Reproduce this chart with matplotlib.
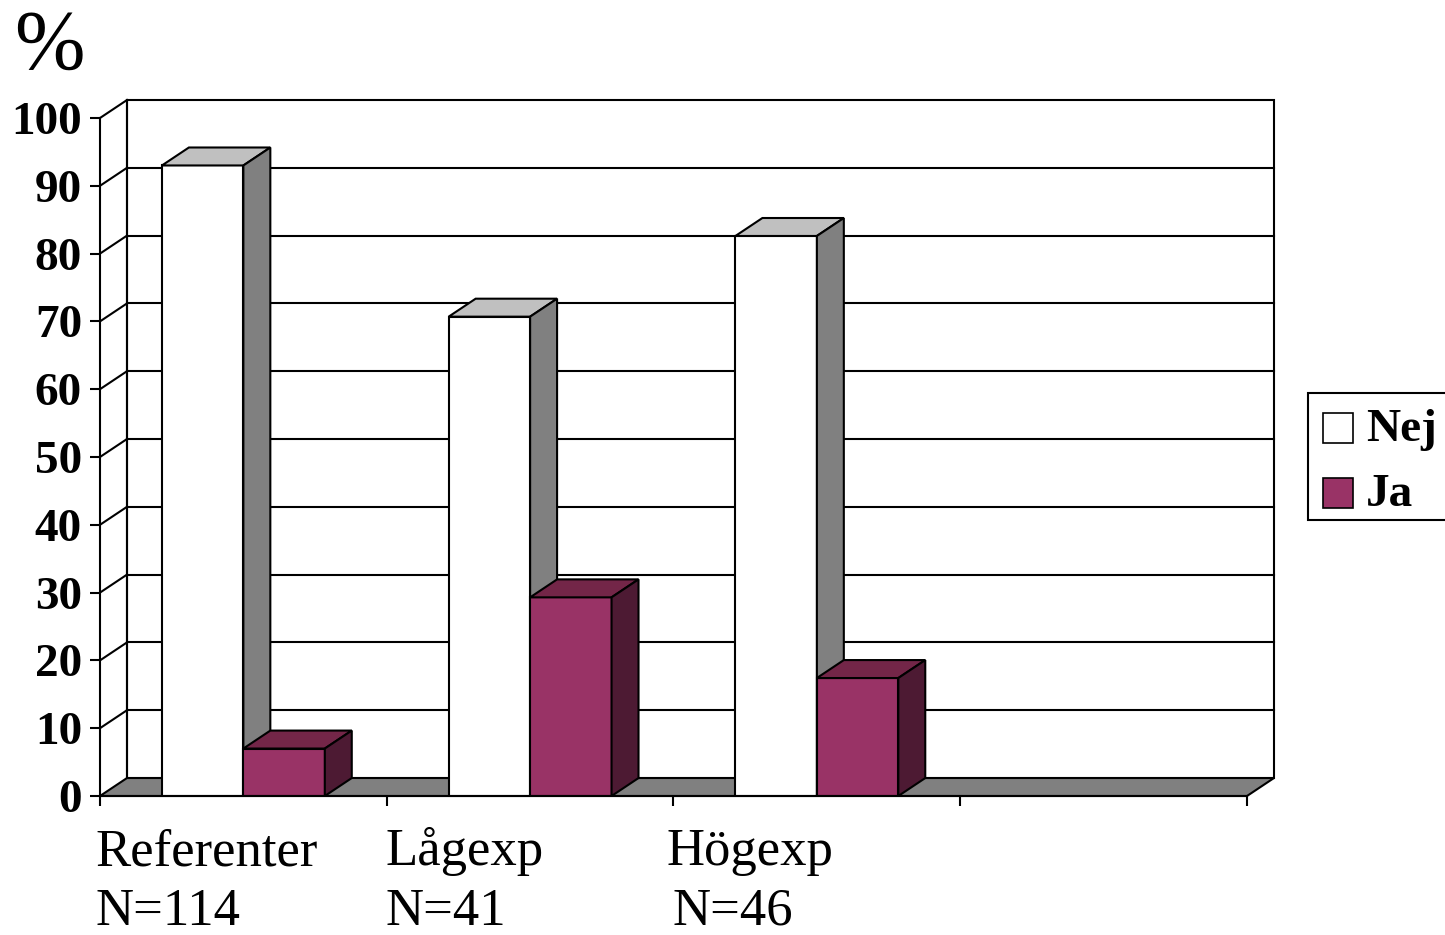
import matplotlib.pyplot as plt
from matplotlib.patches import Polygon, Rectangle

# data (percent)
groups = ['Referenter', 'Lågexp', 'Högexp']
counts = ['N=114', 'N=41', 'N=46']
nej = [93.0, 70.7, 82.6]
ja = [7.0, 29.3, 17.4]
series = ['Nej', 'Ja']
yticks = [0, 10, 20, 30, 40, 50, 60, 70, 80, 90, 100]

# colours: front, top, side
col_nej = ('#ffffff', '#c0c0c0', '#808080')
col_ja = ('#993366', '#732648', '#4d1a33')

serif = 'Liberation Serif'
nslots = 4          # Excel leaves an empty 4th category slot
DX, DY = 0.094, 2.65  # depth offset of the 3d box (data units)
bw = 0.284            # bar width in slot units
lw = 1.5

fig = plt.figure(figsize=(14.45, 9.35), dpi=100)
ax = fig.add_axes([100/1445, 139/935, 1147/1445, 678/935])
ax.set_xlim(0, nslots)
ax.set_ylim(0, 100)
ax.patch.set_visible(False)

# back wall
ax.add_patch(Rectangle((DX, DY), nslots, 100, facecolor='white', edgecolor='black',
                       lw=lw, clip_on=False, zorder=1))
for y in yticks[1:-1]:
    ax.plot([DX, nslots + DX], [y + DY, y + DY], color='black', lw=lw, clip_on=False, zorder=2)
# left wall diagonals
for y in yticks[1:]:
    ax.plot([0, DX], [y, y + DY], color='black', lw=lw, clip_on=False, zorder=2)
ax.plot([DX, DX], [DY, 100 + DY], color='black', lw=lw, clip_on=False, zorder=2)

# floor
ax.add_patch(Polygon([(0, 0), (nslots, 0), (nslots + DX, DY), (DX, DY)], closed=True,
                     facecolor='#808080', edgecolor='black', lw=lw, clip_on=False, zorder=3))


def box(x0, h, cols):
    ax.bar(x0, h, width=bw, align='edge', color=cols[0], edgecolor='black', lw=lw, zorder=5)
    ax.add_patch(Polygon([(x0, h), (x0 + bw, h), (x0 + bw + DX, h + DY), (x0 + DX, h + DY)],
                         closed=True, facecolor=cols[1], edgecolor='black', lw=lw,
                         clip_on=False, zorder=5))
    ax.add_patch(Polygon([(x0 + bw, 0), (x0 + bw + DX, DY), (x0 + bw + DX, h + DY), (x0 + bw, h)],
                         closed=True, facecolor=cols[2], edgecolor='black', lw=lw,
                         clip_on=False, zorder=5))


for i in range(len(groups)):
    box(i + 0.5 - bw, nej[i], col_nej)
    box(i + 0.5, ja[i], col_ja)

# axes
for s in ['top', 'right']:
    ax.spines[s].set_visible(False)
for s in ['left', 'bottom']:
    ax.spines[s].set_linewidth(lw)
    ax.spines[s].set_zorder(6)
ax.set_yticks(yticks)
ax.set_yticklabels([str(t) for t in yticks], fontfamily=serif, fontweight='bold', fontsize=34)
ax.set_xticks(range(nslots + 1))
ax.set_xticklabels([])
ax.tick_params(axis='both', direction='out', length=7, width=lw, pad=6)

# category labels (two lines, slightly different offsets as in the original)
name_x = [-0.017, 0.994, 1.977]
count_x = [-0.017, 0.994, 1.995]
for i in range(len(groups)):
    ax.text(name_x[i], -10.2, groups[i], fontfamily=serif, fontsize=38, ha='left', va='baseline')
    ax.text(count_x[i], -19.0, counts[i], fontfamily=serif, fontsize=38, ha='left', va='baseline')

fig.text(14/1445, 1 - 69/935, '%', fontfamily=serif, fontsize=61, ha='left', va='baseline')

# legend box (runs off the right edge like the original)
W, H = 1445, 935
fig.patches.append(Rectangle((1308/W, 1 - 520/H), 160/W, 127/H, transform=fig.transFigure,
                             facecolor='white', edgecolor='black', lw=lw))
for k, (name, c) in enumerate(zip(series, [col_nej[0], col_ja[0]])):
    ytop = 413 + 65*k
    fig.patches.append(Rectangle((1323/W, 1 - (ytop + 30)/H), 30/W, 30/H, transform=fig.transFigure,
                                 facecolor=c, edgecolor='black', lw=1.2))
    fig.text(1366/W, 1 - (ytop + 17)/H, name, fontfamily=serif, fontweight='bold', fontsize=34,
             ha='left', va='center')

fig.savefig('out.png', dpi=100)
